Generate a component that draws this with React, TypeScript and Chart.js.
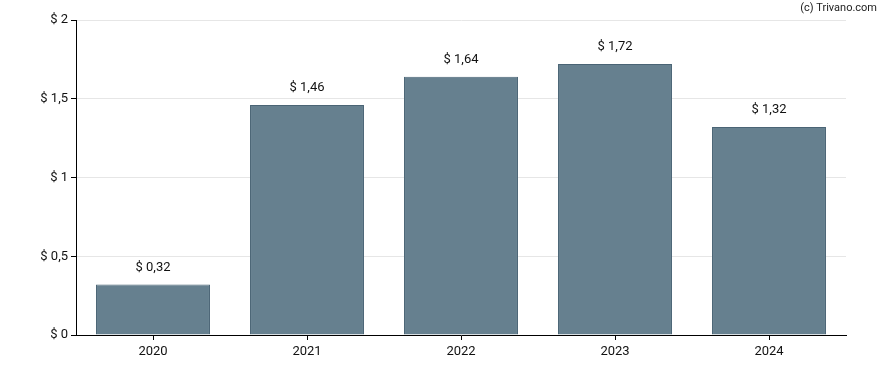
import React, { useEffect, useRef } from "react";
import { Chart, registerables } from "chart.js";

Chart.register(...registerables);

const categories = ["2020", "2021", "2022", "2023", "2024"];
const values = [0.32, 1.46, 1.64, 1.72, 1.32];
const yTicks = [0, 0.5, 1, 1.5, 2];
const copyright = "(c) Trivano.com";

const fmt = (v: number) => "$ " + String(v).replace(".", ",");

const FONT = "Roboto, 'Noto Sans', sans-serif";

export default function App() {
  const ref = useRef<HTMLCanvasElement | null>(null);
  useEffect(() => {
    document.body.style.margin = "0";
    const labelsPlugin = {
      id: "valueLabels",
      afterDatasetsDraw(chart: any) {
        const ctx = chart.ctx;
        const meta = chart.getDatasetMeta(0);
        ctx.save();
        ctx.font = `13px ${FONT}`;
        ctx.fillStyle = "#111";
        ctx.textAlign = "center";
        ctx.textBaseline = "middle";
        meta.data.forEach((el: any, i: number) => {
          ctx.fillText(fmt(values[i]), el.x, el.y - 17);
        });
        ctx.fillStyle = "#222";
        ctx.font = `11px ${FONT}`;
        ctx.textAlign = "right";
        ctx.fillText(copyright, 877, 8);
        ctx.restore();
      },
    };
    const chart = new Chart(ref.current!, {
      type: "bar",
      data: {
        labels: categories,
        datasets: [
          {
            data: values,
            backgroundColor: "#66808f",
            borderColor: "#4a6475",
            borderWidth: 1,
            barPercentage: 0.74,
            categoryPercentage: 1,
          },
        ],
      },
      options: {
        animation: false,
        responsive: false,
        maintainAspectRatio: false,
        layout: { padding: { left: 0, top: 20, right: 42, bottom: 0 } },
        plugins: { legend: { display: false }, tooltip: { enabled: false } },
        scales: {
          x: {
            grid: {
              offset: false,
              drawOnChartArea: false,
              tickLength: 5,
              tickColor: "#000",
            },
            border: { color: "#000", width: 1 },
            ticks: { color: "#111", font: { family: FONT, size: 13 }, padding: 4 },
            afterFit(scale: any) {
              scale.height = 35;
            },
          },
          y: {
            min: 0,
            max: 2,
            afterBuildTicks(scale: any) {
              scale.ticks = yTicks.map((v) => ({ value: v }));
            },
            grid: { color: "#e6e6e6", tickLength: 5, tickColor: "#000" },
            border: { color: "#000", width: 1 },
            ticks: {
              color: "#111",
              font: { family: FONT, size: 13 },
              padding: 3,
              callback: (v: any) => fmt(Number(v)),
            },
            afterFit(scale: any) {
              scale.width = 76;
            },
          },
        },
      },
      plugins: [labelsPlugin],
    });
    return () => chart.destroy();
  }, []);
  return (
    <div style={{ position: "absolute", left: 0, top: 0, width: 888, height: 370 }}>
      <canvas ref={ref} width={888} height={370} style={{ width: 888, height: 370 }} />
    </div>
  );
}
